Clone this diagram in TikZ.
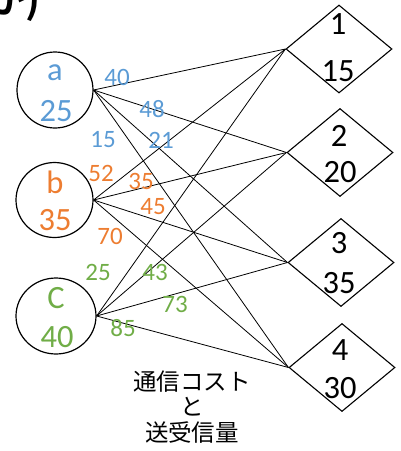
\documentclass[tikz,border=0pt]{standalone}
\usepackage{fontspec}
\setmainfont{Carlito}
\newfontfamily\jpfont{Noto Sans CJK JP}
\newfontfamily\jpbold{Noto Sans CJK JP Bold}
\usetikzlibrary{shapes.geometric}
\definecolor{cblue}{RGB}{91,155,213}
\definecolor{corange}{RGB}{237,125,49}
\definecolor{cgreen}{RGB}{112,173,71}
\tikzset{
  src/.style={draw=black, line width=1.2pt, ellipse, inner sep=0pt},
  dst/.style={draw=black, line width=1.1pt, diamond, inner sep=0pt, minimum width=106pt, minimum height=88pt},
  big/.style={inner sep=0pt, font=\fontsize{32.5}{34}\selectfont},
  lbl/.style={inner sep=0pt, font=\fontsize{25}{26}\selectfont},
  edge/.style={draw=black, line width=0.8pt},
}
\begin{document}
\begin{tikzpicture}[x=1pt,y=-1pt]
\clip (0,0) rectangle (400,451);
\useasboundingbox (0,0) rectangle (400,451);
% partial title
\node[anchor=base east, inner sep=0pt, font=\jpbold\fontsize{40}{40}\selectfont] (title) at (41,13) {か)};
% sources
\node[src, minimum width=76pt, minimum height=76pt] (a) at (55,90) {};
\node[src, minimum width=77pt, minimum height=75pt] (b) at (54.5,200) {};
\node[src, minimum width=80pt, minimum height=76pt] (c) at (56,316) {};
\node[big, text=cblue] (at) at (55,73) {a};
\node[big, text=cblue] (an) at (56,111) {25};
\node[big, text=corange] (bt) at (55,182) {b};
\node[big, text=corange] (bn) at (55,220) {35};
\node[big, text=cgreen] (ct) at (56,298) {C};
\node[big, text=cgreen] (cn) at (57,337) {40};
% destinations
\node[dst] (d1) at (339,49) {};
\node[dst] (d2) at (340,152.5) {};
\node[dst] (d3) at (341,262.5) {};
\node[dst] (d4) at (342,367.5) {};
\node[big] (d1t) at (338,24) {1};
\node[big] (d1n) at (338,71) {15};
\node[big] (d2t) at (339,136) {2};
\node[big] (d2n) at (340,172) {20};
\node[big] (d3t) at (339,243) {3};
\node[big] (d3n) at (339,283) {35};
\node[big] (d4t) at (340,350) {4};
\node[big] (d4n) at (340,388) {30};
% edges
\foreach \s in {a,b,c}{
  \foreach \d in {d1,d2,d3,d4}{
    \draw[edge] (\s.east) -- (\d.west);
  }
}
% labels
\node[lbl, text=cblue] (l1) at (117,77) {40};
\node[lbl, text=cblue] (l2) at (152,109) {48};
\node[lbl, text=cblue] (l3) at (103,140) {15};
\node[lbl, text=cblue] (l4) at (161,140) {21};
\node[lbl, text=corange] (l5) at (101,173) {52};
\node[lbl, text=corange] (l6) at (141,181) {35};
\node[lbl, text=corange] (l7) at (153,207) {45};
\node[lbl, text=corange] (l8) at (110,236) {70};
\node[lbl, text=cgreen] (l9) at (98,272) {25};
\node[lbl, text=cgreen] (l10) at (155,272) {43};
\node[lbl, text=cgreen] (l11) at (175,304) {73};
\node[lbl, text=cgreen] (l12) at (123,328) {85};
% caption
\node[inner sep=0pt, align=center, font=\jpfont\fontsize{23.5}{25.5}\selectfont] (cap) at (192,407) {通信コスト\\と\\送受信量};
\end{tikzpicture}
\end{document}
